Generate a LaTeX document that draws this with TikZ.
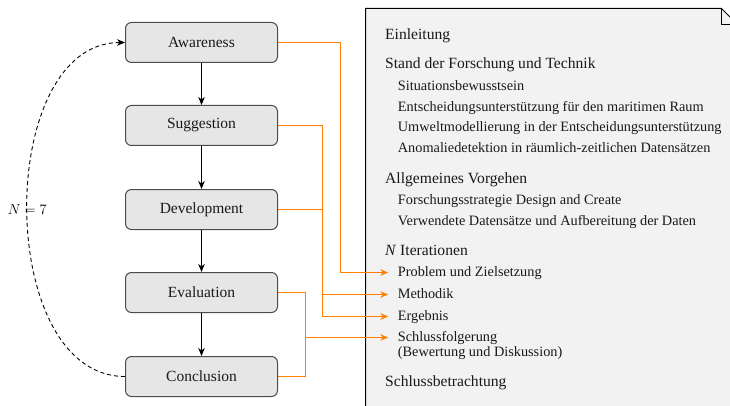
\documentclass[tikz,border=0pt]{standalone}
\usepackage{fontspec}
\setmainfont{Liberation Serif}
\usetikzlibrary{arrows.meta}
\definecolor{docfill}{HTML}{F2F2F2}
\definecolor{boxfill}{HTML}{E6E6E6}
\definecolor{linkorange}{HTML}{FF8000}

\begin{document}
\begin{tikzpicture}[x=1pt,y=-1pt,
  stage/.style={draw=black!70, fill=boxfill, rounded corners=6pt, line width=1pt,
    minimum width=152pt, minimum height=40pt, inner sep=0pt,
    font=\fontsize{15.5}{18}\selectfont, text=black!90},
  flow/.style={-{Stealth[length=8pt,width=6.5pt,inset=2.5pt]}, line width=1pt},
  iterloop/.style={-{Stealth[length=8pt,width=6.5pt,inset=2.5pt]}, line width=0.9pt,
    dash pattern=on 4pt off 3pt},
  head/.style={anchor=base west, inner sep=0pt, font=\fontsize{15.6}{18}\selectfont, text=black!90},
  item/.style={anchor=base west, inner sep=0pt, font=\fontsize{14.3}{17}\selectfont, text=black!90},
  target/.style={anchor=west, inner sep=0pt, text height=10pt, text depth=3pt,
    font=\fontsize{14.3}{17}\selectfont, text=black!90},
  link/.style={draw=linkorange, line width=1pt, -{Stealth[length=8pt,width=6.5pt,inset=2.5pt]}},
  linkline/.style={draw=linkorange, line width=1pt},
]
\useasboundingbox (0,0) rectangle (730,406);
\clip (0,0) rectangle (730,406);

% outline of the thesis document with a folded corner
\draw[fill=docfill, line width=1pt]
  (365.5,8.5) -- (721.5,8.5) -- (737.5,24.5) -- (737.5,440) -- (365.5,440) -- cycle;
\draw[line width=1pt] (721.5,8.5) -- (721.5,24.5) -- (737.5,24.5);

% design science cycle
\node[stage] (aw) at (201.5,42.5)  {Awareness};
\node[stage] (sg) at (201.5,125.5) {Suggestion};
\node[stage] (dv) at (201.5,209.5) {Development};
\node[stage] (ev) at (201.5,292.5) {Evaluation};
\node[stage] (co) at (201.5,376.5) {Conclusion};

\draw[flow] (aw) -- (sg);
\draw[flow] (sg) -- (dv);
\draw[flow] (dv) -- (ev);
\draw[flow] (ev) -- (co);

\draw[iterloop] (co.west) to[out=180,in=180]
  node[pos=0.5, font=\fontsize{15.5}{18}\selectfont, text=black] {$N = 7$} (aw.west);

% table of contents
\node[head] (ein) at (385,40)    {Einleitung};
\node[head] (sdf) at (385,68.5)  {Stand der Forschung und Technik};
\node[item] (s1)  at (397.7,91)  {Situationsbewusstsein};
\node[item] (s2)  at (397.7,111.5) {Entscheidungsunterstützung für den maritimen Raum};
\node[item] (s3)  at (397.7,132) {Umweltmodellierung in der Entscheidungsunterstützung};
\node[item] (s4)  at (397.7,152.5) {Anomaliedetektion in räumlich-zeitlichen Datensätzen};
\node[head] (av)  at (385,183)   {Allgemeines Vorgehen};
\node[item] (a1)  at (397.7,204.5) {Forschungsstrategie Design and Create};
\node[item] (a2)  at (397.7,225) {Verwendete Datensätze und Aufbereitung der Daten};
\node[head] (nit) at (385,255.5) {\textit{N} Iterationen};
\node[target] (pz)  at (397.7,272.5) {Problem und Zielsetzung};
\node[target] (md)  at (397.7,294.5) {Methodik};
\node[target] (eg)  at (397.7,316.5) {Ergebnis};
\node[target] (sf)  at (397.7,337.5) {Schlussfolgerung};
\node[item] (sf2) at (397.7,356.5) {(Bewertung und Diskussion)};
\node[head] (sb)  at (385,386)   {Schlussbetrachtung};

% links from the cycle phases to the chapters
\draw[link] (aw.east) -- ++(62,0) |- ([xshift=-9.4pt]pz.west);
\draw[link] (sg.east) -- ++(44,0) coordinate (sj) |- ([xshift=-9.4pt]md.west);
\draw[link] (dv.east) -- (sj |- dv.east) |- ([xshift=-9.4pt]eg.west);
\draw[link] (ev.east) -- ++(27,0) coordinate (ej) |- ([xshift=-9.4pt]sf.west);
\draw[linkline] (co.east) -| (ej |- sf.west);
\end{tikzpicture}
\end{document}
